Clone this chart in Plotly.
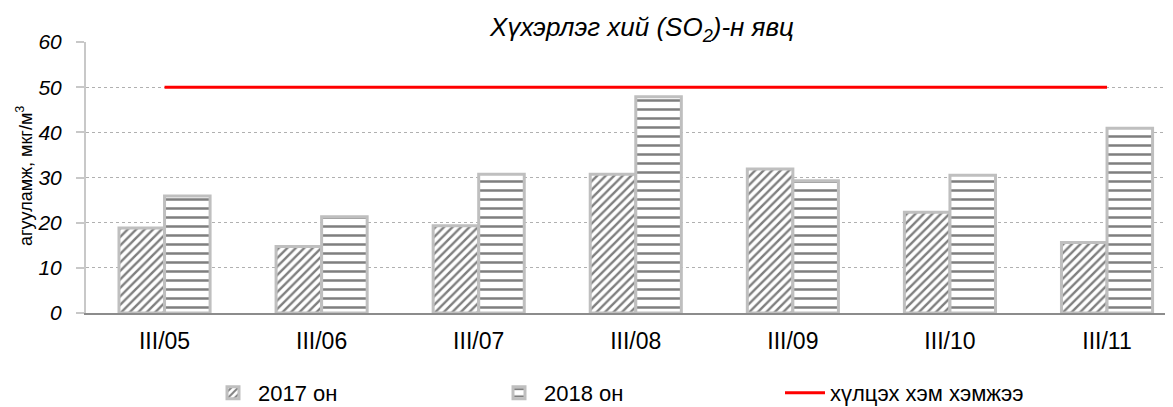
import plotly.graph_objects as go

categories = ["III/05", "III/06", "III/07", "III/08", "III/09", "III/10", "III/11"]
values_2017 = [18.8, 14.7, 19.3, 30.7, 31.9, 22.3, 15.6]
values_2018 = [25.9, 21.3, 30.7, 47.9, 29.3, 30.5, 40.9]
limit_values = [50, 50, 50, 50, 50, 50, 50]
y_ticks = [0, 10, 20, 30, 40, 50, 60]

FONT = "Liberation Sans, Arial, sans-serif"
# the page body adds an 8px offset; the figure is sized/placed to compensate
OFF = 8
W, H = 1173 - OFF, 407 - OFF


def cx(wx):
    return (wx - OFF) / W


def cy(wy):
    return (407 - wy) / H


fig = go.Figure()
fig.add_trace(go.Bar(
    x=categories, y=values_2017, name="2017 он",
    marker=dict(color="white", line=dict(color="#bfbfbf", width=3),
                pattern=dict(shape="/", fgcolor="#000000", bgcolor="white", size=6, solidity=0.4)),
))
fig.add_trace(go.Bar(
    x=categories, y=values_2018, name="2018 он",
    marker=dict(color="white", line=dict(color="#bfbfbf", width=3),
                pattern=dict(shape="-", fgcolor="#000000", bgcolor="white", size=9, solidity=0.28)),
))
fig.add_trace(go.Scatter(
    x=categories, y=limit_values, name="хүлцэх хэм хэмжээ",
    mode="lines", line=dict(color="#ff0000", width=3),
))

fig.update_layout(
    width=W, height=H,
    margin=dict(l=86 - OFF, r=0, t=42 - OFF, b=H - (313 - OFF), autoexpand=False),
    paper_bgcolor="white", plot_bgcolor="white",
    font=dict(family=FONT, color="black", size=20),
    barmode="group", bargap=0.42, bargroupgap=0,
    title=dict(text="Хүхэрлэг хий (SO<sub>2</sub>)-н явц",
               xref="container", x=cx(642), xanchor="center",
               yref="container", y=cy(27), yanchor="middle",
               font=dict(size=26, family=FONT, style="italic")),
    showlegend=True,
    legend=dict(orientation="h", xref="container", x=cx(208), xanchor="left",
                yref="container", y=cy(393), yanchor="middle",
                entrywidth=231, entrywidthmode="pixels", itemwidth=40,
                font=dict(size=22, family=FONT)),
    annotations=[dict(
        text="агууламж, мкг/м<sup>3</sup>", textangle=-90,
        xref="paper", x=(24 - 86) / 1087, xanchor="center",
        yref="paper", y=(313 - 176) / 271, yanchor="middle",
        showarrow=False, font=dict(size=18, family=FONT),
    )],
)
fig.update_xaxes(
    range=[-0.5, 6.42], showline=True, linecolor="#8c8c8c", linewidth=2,
    showgrid=False, ticks="", tickfont=dict(size=23, family=FONT), automargin=False,
    ticklabelstandoff=6,
)
fig.update_yaxes(
    range=[0, 60], tickvals=y_ticks,
    showline=True, linecolor="#c8c8c8", linewidth=2,
    ticks="outside", ticklen=8, tickcolor="#c8c8c8", tickwidth=2,
    showgrid=True, gridcolor="#b0b0b0", griddash="dot", gridwidth=1,
    tickfont=dict(size=21, family=FONT, style="italic"),
    ticklabelstandoff=10,
    zeroline=False, automargin=False,
)

fig.write_html("out.html")
